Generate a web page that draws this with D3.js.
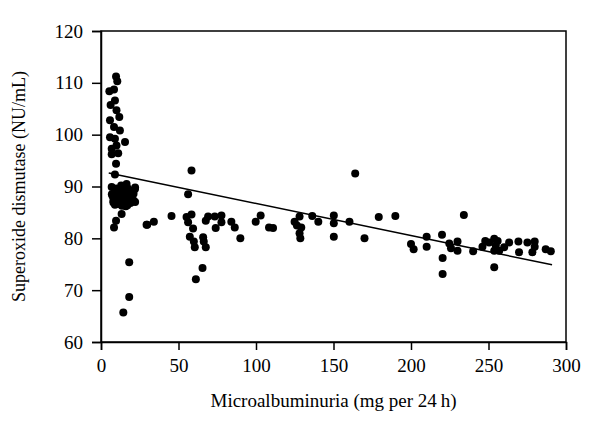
<!DOCTYPE html>
<html>
<head>
<meta charset="utf-8">
<script src="https://cdn.jsdelivr.net/npm/d3@7"></script>
<style>
  body { margin: 0; background: #fff; }
  text { font-family: "Liberation Serif", "DejaVu Serif", serif; }
</style>
</head>
<body>
<div id="chart"></div>
<script>
// data
var xTicks = [0, 50, 100, 150, 200, 250, 300],
    yTicks = [60, 70, 80, 90, 100, 110, 120];

// microalbuminuria (mg per 24 h)
var albumin = [
  9.7, 10.5, 5.4, 8.4, 9, 6.2, 10, 11.8, 5.8, 8.4, 12.2, 5.8, 9, 15.5, 10, 6.9, 11.1, 6.9, 9.7, 9,
  6.9, 16.5, 21.9, 13.3, 9.7, 8.4, 29.4, 18.2, 18.2, 14.4,
  7, 8, 9, 10, 11, 12, 13, 14, 15, 16, 17, 18, 19, 20, 21, 22,
  8, 10, 12, 14, 16, 18, 20, 22, 9, 11, 13, 15, 17, 19, 21, 7.5, 10.5, 13.5, 16.5, 19.5,
  58.4, 56.2, 29.8, 34.1, 45.5, 55.2, 58.4, 56.2, 59.4, 57.3, 59.9, 60.5, 65.9, 66.3, 67.6, 67.6,
  69.1, 73.4, 74, 77.7, 77.7, 84.1, 86.3, 89.9, 65.5, 61.2,
  99.8, 103, 108.4, 111, 124.9, 128.1, 126.4, 129.2, 128.1, 128.6, 136.3, 140.2, 150.2, 150.2,
  150.2, 160.3, 164, 170, 179.2, 189.9,
  234.1, 200, 201.7, 210.1, 210.1, 220, 220.4, 220.4, 224.7, 225.8, 230, 230, 240.1, 246.1, 247.9,
  253.7, 255.9, 254.7, 253.7, 253.7, 256.9, 260.1, 263.3, 269.3, 269.7, 275.1, 279.8, 278.3, 279.8,
  286.9, 290.2, 250.4
];

// superoxide dismutase (NU/mL)
var sod = [
  111.2, 110.3, 108.4, 108.7, 106.6, 105.7, 104.7, 103.4, 102.8, 101.5, 100.8, 99.5, 99.2, 98.6, 97.9, 97.3, 96.4, 96.2, 94.4, 92.3,
  89.9, 90.5, 89.5, 84.7, 83.4, 82.1, 82.6, 75.4, 68.7, 65.7,
  88.5, 87.2, 86.5, 89.6, 88.1, 87, 90.2, 86.8, 88.9, 87.6, 86.4, 89.2, 88, 87.1, 88.6, 89.8,
  86.9, 87.9, 88.7, 89.1, 86.2, 87.5, 88.2, 87, 89.4, 86.6, 87.8, 88.4, 89.7, 86.8, 87.3, 88.1, 89, 86.3, 87.4, 88.8,
  93.1, 88.5, 82.6, 83.2, 84.3, 84.1, 84.6, 83.1, 81.9, 80.3, 79.4, 78.3, 80.2, 79.4, 78.3, 83.4,
  84.2, 84.2, 82, 84.4, 83.1, 83.2, 82.1, 80, 74.3, 72.1,
  83.2, 84.4, 82.1, 82, 83.2, 84.2, 82.5, 82.1, 81, 80, 84.3, 83.2, 84.4, 82.9,
  80.3, 83.2, 92.5, 80, 84.1, 84.3,
  84.5, 78.9, 77.9, 80.3, 78.4, 80.7, 76.2, 73.1, 79, 78.1, 79.4, 77.6, 77.5, 78.4, 79.5,
  79.9, 79.5, 78.6, 77.6, 74.4, 77.6, 78.3, 79.2, 79.4, 77.3, 79.2, 79.4, 77.3, 78.4,
  77.9, 77.5, 79.2
];

// regression line end points
var fitX = [5, 291],
    fitY = [92.6, 74.9];

var margin = { top: 31, right: 34, bottom: 88, left: 101 },
  width = 600 - margin.left - margin.right,
  height = 430 - margin.top - margin.bottom;

var svg = d3.select("#chart")
  .append("svg")
  .attr("width", 600)
  .attr("height", 430)
  .append("g")
  .attr("transform", "translate(" + margin.left + "," + margin.top + ")");

var x = d3.scaleLinear().domain([0, 300]).range([0, width]);
var y = d3.scaleLinear().domain([60, 120]).range([height, 0]);

// frame
svg.append("rect")
  .attr("width", width)
  .attr("height", height)
  .attr("fill", "none")
  .attr("stroke", "#000")
  .attr("stroke-width", 1.5);

// axes
var xAxis = svg.append("g")
  .attr("transform", "translate(0," + height + ")")
  .call(d3.axisBottom(x).tickValues(xTicks).tickSize(8).tickPadding(9));
var yAxis = svg.append("g")
  .call(d3.axisLeft(y).tickValues(yTicks).tickSize(9).tickPadding(9));

[xAxis, yAxis].forEach(function(a) {
  a.attr("font-family", null).attr("font-size", null);
  a.select(".domain").attr("stroke-width", 1.5);
  a.selectAll(".tick line").attr("stroke-width", 1.5);
  a.selectAll(".tick text")
    .style("font-size", "19px")
    .attr("fill", "#000");
});

// axis labels
svg.append("text")
  .attr("text-anchor", "middle")
  .attr("x", width / 2)
  .attr("y", height + 65)
  .style("font-size", "19px")
  .text("Microalbuminuria (mg per 24\u2009h)");

svg.append("text")
  .attr("text-anchor", "middle")
  .attr("transform", "translate(-76," + height / 2 + ")rotate(-90)")
  .style("font-size", "18px")
  .text("Superoxide dismutase (NU/mL)");

// points
svg.append("g")
  .selectAll("circle")
  .data(albumin)
  .enter()
  .append("circle")
  .attr("cx", function(d) { return x(d); })
  .attr("cy", function(d, i) { return y(sod[i]); })
  .attr("r", 4)
  .style("fill", "#000");

// fit line
svg.append("path")
  .datum(d3.zip(fitX, fitY))
  .attr("fill", "none")
  .attr("stroke", "#000")
  .attr("stroke-width", 1.5)
  .attr("d", d3.line()
    .x(function(d) { return x(d[0]); })
    .y(function(d) { return y(d[1]); })
  );
</script>
</body>
</html>
